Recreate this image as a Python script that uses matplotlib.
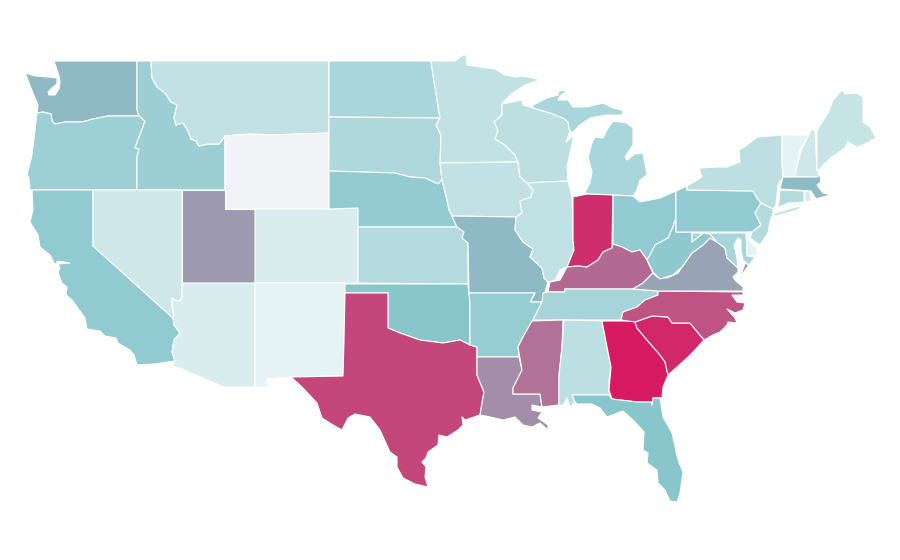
#!/usr/bin/env python3
"""Choropleth of the lower 48 states, drawn with plain polygons."""
import matplotlib
matplotlib.use("Agg")
import matplotlib.pyplot as plt
from matplotlib.colors import LinearSegmentedColormap, Normalize
from matplotlib.patches import Polygon

states = ["WA", "OR", "ID", "MT", "WY", "CA", "NV", "UT", "AZ", "CO", "NM",
          "ND", "SD", "NE", "KS", "OK", "TX", "MN", "IA", "MO", "AR", "LA",
          "WI", "IL", "MI", "IN", "OH", "KY", "TN", "MS", "AL", "GA", "FL",
          "SC", "NC", "VA", "WV", "PA", "NY", "VT", "NH", "ME", "MA", "CT",
          "RI", "NJ", "DE", "MD"]
values = [44.6, 32.7, 33, 19, 0, 37, 13.7, 55.4, 9.6, 9.6, 5,
          28, 26, 36, 24, 40, 84.5, 19, 19, 44.6, 35, 60,
          20.6, 19.4, 28, 93, 37, 72, 29, 69.5, 21, 100, 40,
          95.5, 80, 52, 37.7, 37, 20.6, 5, 13.7, 17, 44, 24,
          11, 24, 5, 28.6]

color_stops = [(0.0, "#f2f3f6"), (0.05, "#e5f3f4"), (0.40, "#89c6cc"), (1.0, "#d81b60")]

# basemap only: state boundaries traced in figure pixels, no projection data offline
outlines = {
    "WA": [[(54,61),(137,61),(137,110),(139,116),(108,116),(93,119),(82,122),(65,122),(55,124),(52,121),(51,114),(43,112),(37,113),(38,105),(35,98),(31,88),(26,75),(25,73),(35,76),(48,77),(57,78),(57,84),(52,88),(48,92),(49,95),(55,95),(59,89),(60,82),(59,76),(57,70)]],
    "OR": [[(37,113),(43,112),(51,114),(52,121),(55,124),(65,122),(82,122),(93,119),(108,116),(139,116),(145,121),(143,127),(139,137),(135,148),(139,149),(137,157),(137,190),(30,190),(29,178),(27,175),(32,155),(35,130)]],
    "ID": [[(137,61),(151,61),(152,78),(157,87),(165,93),(171,102),(177,105),(174,118),(176,125),(183,123),(188,131),(191,139),(196,141),(199,146),(208,144),(219,144),(225,137),(225,190),(137,190),(137,157),(139,149),(135,148),(139,137),(143,127),(145,121),(139,116),(137,110)]],
    "MT": [[(151,61),(329,61),(329,133),(270,135),(250,134),(225,136),(219,144),(208,144),(199,146),(196,141),(191,139),(188,131),(183,123),(176,125),(174,118),(177,105),(171,102),(165,93),(157,87),(152,78)]],
    "WY": [[(225,136),(250,134),(270,135),(329,133),(329,209),(225,209)]],
    "CA": [[(32,190),(93,190),(93,246),(173,318),(174,325),(180,333),(174,340),(172,352),(175,361),(155,364),(137,365),(134,355),(130,350),(118,343),(116,338),(105,336),(100,331),(87,329),(85,318),(80,311),(72,300),(66,295),(67,287),(62,283),(58,272),(60,268),(58,264),(70,263),(58,261),(55,265),(50,255),(40,247),(38,235),(30,222),(33,210)]],
    "NV": [[(93,190),(182,190),(182,297),(180,301),(176,301),(172,298),(172,307),(174,315),(173,318),(93,246)]],
    "UT": [[(182,190),(225,190),(225,209),(255,209),(255,283),(182,283)]],
    "AZ": [[(182,283),(255,283),(255,387),(224,387),(172,365),(175,361),(172,352),(174,340),(180,333),(174,325),(173,318),(174,315),(172,307),(172,298),(176,301),(180,301),(182,297)]],
    "CO": [[(255,209),(329,209),(358,208),(358,283),(255,283)]],
    "NM": [[(255,283),(345,283),(345,293),(344,340),(343,376),(291,377),(267,379),(267,387),(255,387)]],
    "ND": [[(329,61),(431,61),(433,75),(440,118),(329,117)]],
    "SD": [[(329,117),(440,118),(436,125),(441,135),(440,163),(442,180),(438,184),(425,178),(410,177),(395,173),(329,171)]],
    "NE": [[(329,171),(395,173),(410,177),(425,178),(438,184),(442,180),(447,200),(449,210),(452,216),(457,227),(358,227),(358,208),(329,209)]],
    "KS": [[(358,227),(457,227),(464,232),(462,238),(468,243),(468,284),(358,283)]],
    "OK": [[(345,284),(468,284),(470,303),(470,345),(460,340),(443,343),(420,340),(400,333),(388,328),(388,293),(345,293)]],
    "TX": [[(345,293),(388,293),(388,328),(400,333),(420,340),(443,343),(460,340),(470,345),(477,347),(477,375),(484,392),(482,403),(480,415),(465,420),(462,417),(463,425),(458,430),(447,437),(439,435),(438,445),(428,452),(426,458),(422,462),(426,467),(425,477),(428,487),(415,484),(403,478),(397,467),(397,457),(390,452),(380,430),(370,417),(355,414),(348,418),(342,430),(333,425),(322,418),(317,403),(302,387),(291,377),(343,376),(344,340)]],
    "MN": [[(431,61),(455,61),(463,55),(466,55),(467,65),(480,67),(495,69),(505,75),(515,77),(522,76),(533,78),(540,80),(525,85),(510,95),(502,104),(502,115),(494,122),(498,130),(495,139),(505,145),(515,155),(518,162),(440,163),(441,135),(436,125),(440,118),(433,75)]],
    "IA": [[(440,163),(518,162),(520,177),(527,183),(533,190),(531,197),(520,201),(522,213),(516,217),(452,216),(449,210),(447,200),(442,180)]],
    "MO": [[(452,216),(516,217),(515,230),(523,242),(533,249),(530,257),(542,268),(544,278),(548,282),(545,292),(542,302),(530,302),(535,293),(469,293),(468,243),(462,238),(464,232),(457,227)]],
    "AR": [[(469,293),(535,293),(530,302),(542,302),(533,320),(528,330),(523,337),(518,347),(519,357),(477,357),(477,347),(470,345),(470,303)]],
    "LA": [[(477,357),(519,357),(522,370),(513,388),(513,394),(540,394),(542,407),(532,405),(532,410),(542,412),(538,418),(548,425),(548,430),(540,423),(532,427),(523,425),(515,417),(503,420),(490,417),(480,415),(482,403),(484,392),(477,375)]],
    "WI": [[(502,104),(522,100),(523,105),(533,108),(550,113),(563,118),(568,122),(570,131),(566,142),(574,135),(570,153),(567,167),(568,181),(527,183),(520,177),(518,162),(515,155),(505,145),(495,139),(498,130),(494,122),(502,115)]],
    "IL": [[(527,183),(568,181),(572,197),(573,240),(574,250),(567,267),(560,270),(555,280),(548,282),(544,278),(542,268),(530,257),(533,249),(523,242),(515,230),(516,217),(522,213),(520,201),(531,197),(533,190)]],
    "MI": [[(533,105),(547,98),(558,95),(559,91),(568,90),(560,96),(558,100),(568,100),(573,107),(587,107),(603,103),(613,108),(622,110),(623,115),(607,115),(590,118),(580,125),(572,133),(569,129),(568,122),(563,118),(550,113),(533,108)],
           [(587,194),(613,195),(633,196),(637,190),(640,180),(647,175),(643,153),(635,154),(627,160),(625,157),(633,145),(633,128),(627,123),(613,121),(608,128),(603,138),(595,137),(592,143),(588,157),(592,172),(590,183),(585,192)]],
    "IN": [[(573,197),(587,194),(613,195),(612,243),(612,248),(603,252),(598,260),(587,267),(578,266),(567,267),(574,250),(573,240)]],
    "OH": [[(613,195),(633,196),(640,202),(660,198),(676,191),(676,217),(673,227),(668,238),(655,245),(650,255),(647,260),(640,250),(632,252),(622,247),(613,244)]],
    "KY": [[(548,292),(550,282),(560,280),(567,267),(578,266),(587,267),(598,260),(603,252),(612,248),(613,244),(622,247),(632,252),(640,250),(647,260),(653,273),(643,283),(633,289),(565,289),(565,292)]],
    "TN": [[(543,293),(548,292),(565,292),(565,289),(633,289),(658,291),(658,295),(645,300),(637,307),(623,312),(621,320),(533,320),(542,302)]],
    "MS": [[(532,321),(563,320),(562,347),(559,375),(559,405),(542,407),(540,394),(513,394),(513,388),(522,370),(518,347),(523,337)]],
    "AL": [[(564,320),(602,321),(607,347),(611,367),(609,380),(609,395),(572,395),(575,402),(570,407),(567,398),(563,405),(559,405),(559,375),(562,347)]],
    "GA": [[(602,321),(635,321),(637,328),(647,340),(660,355),(665,362),(668,375),(663,387),(662,398),(653,398),(652,405),(651,402),(637,402),(612,399),(609,390),(611,367),(607,347)]],
    "FL": [[(572,395),(609,395),(612,399),(637,402),(651,402),(652,405),(653,398),(660,398),(663,417),(672,433),(678,460),(683,472),(680,493),(677,502),(670,501),(665,490),(658,483),(657,470),(647,463),(648,453),(643,450),(644,432),(633,420),(623,411),(607,417),(600,408),(592,404),(577,404),(575,402)]],
    "SC": [[(635,322),(652,316),(668,317),(672,323),(690,323),(704,340),(695,350),(687,358),(677,367),(668,375),(665,362),(660,355),(647,340),(637,328)]],
    "NC": [[(658,291),(743,292),(743,295),(732,295),(737,302),(745,303),(743,310),(735,313),(727,309),(735,318),(737,323),(728,322),(727,325),(720,332),(713,335),(704,340),(690,323),(672,323),(668,317),(652,316),(635,322),(621,320),(623,312),(637,307),(645,300),(658,295)]],
    "VA": [[(633,289),(643,283),(653,273),(657,277),(667,278),(678,273),(682,267),(692,253),(703,245),(710,238),(717,242),(725,248),(727,258),(738,268),(738,272),(733,277),(736,281),(743,287),(743,291),(658,291)],
           [(749,265),(745,263),(740,278),(744,272)]],
    "WV": [[(647,260),(650,255),(655,245),(668,238),(673,227),(676,217),(676,232),(692,232),(692,242),(703,233),(710,234),(717,242),(710,238),(703,245),(692,253),(682,267),(673,275),(660,279),(653,272)]],
    "PA": [[(676,191),(687,186),(687,190),(753,191),(757,198),(761,203),(755,213),(761,225),(752,232),(676,232)]],
    "NY": [[(687,186),(702,177),(699,168),(718,167),(727,167),(740,162),(739,150),(747,145),(757,137),(782,135),(782,163),(783,177),(778,185),(776,205),(773,209),(761,203),(757,198),(753,191),(687,190)],
           [(773,214),(803,205),(797,210),(775,216)]],
    "VT": [[(782,135),(809,135),(800,150),(795,177),(783,177),(782,163)]],
    "NH": [[(809,135),(811,130),(815,130),(817,170),(820,177),(795,177),(797,165),(802,148)]],
    "ME": [[(817,130),(828,113),(833,100),(842,90),(845,94),(857,93),(863,97),(863,122),(870,127),(876,138),(863,145),(857,147),(848,142),(845,148),(832,157),(823,165),(820,169),(817,170)]],
    "MA": [[(783,177),(817,177),(820,175),(821,182),(817,185),(823,193),(831,195),(823,197),(816,199),(811,191),(780,189)]],
    "CT": [[(780,190),(804,191),(804,202),(788,203),(777,208),(779,202)]],
    "RI": [[(805,191),(810,192),(811,201),(805,202)]],
    "NJ": [[(761,203),(773,209),(773,213),(770,222),(768,233),(760,245),(750,238),(752,232),(761,225),(755,213)]],
    "DE": [[(746,233),(750,232),(748,240),(757,248),(757,256),(747,256)]],
    "MD": [[(692,233),(746,233),(747,256),(755,257),(749,265),(743,260),(741,250),(741,240),(738,238),(734,245),(737,258),(738,268),(727,258),(725,248),(717,242),(710,234),(703,233),(692,242)]],
}


def main():
    cmap = LinearSegmentedColormap.from_list("rate", color_stops)
    norm = Normalize(0, 100)

    fig = plt.figure(figsize=(9, 5.6), dpi=100)
    ax = fig.add_axes([0, 0, 1, 1])
    for state, value in zip(states, values):
        for part in outlines[state]:
            ax.add_patch(Polygon(part, closed=True, facecolor=cmap(norm(value)),
                                 edgecolor="white", linewidth=0.8, joinstyle="round"))
    ax.set_xlim(0, 900)
    ax.set_ylim(560, 0)
    ax.axis("off")
    fig.savefig("out.png", dpi=100)


if __name__ == "__main__":
    main()
